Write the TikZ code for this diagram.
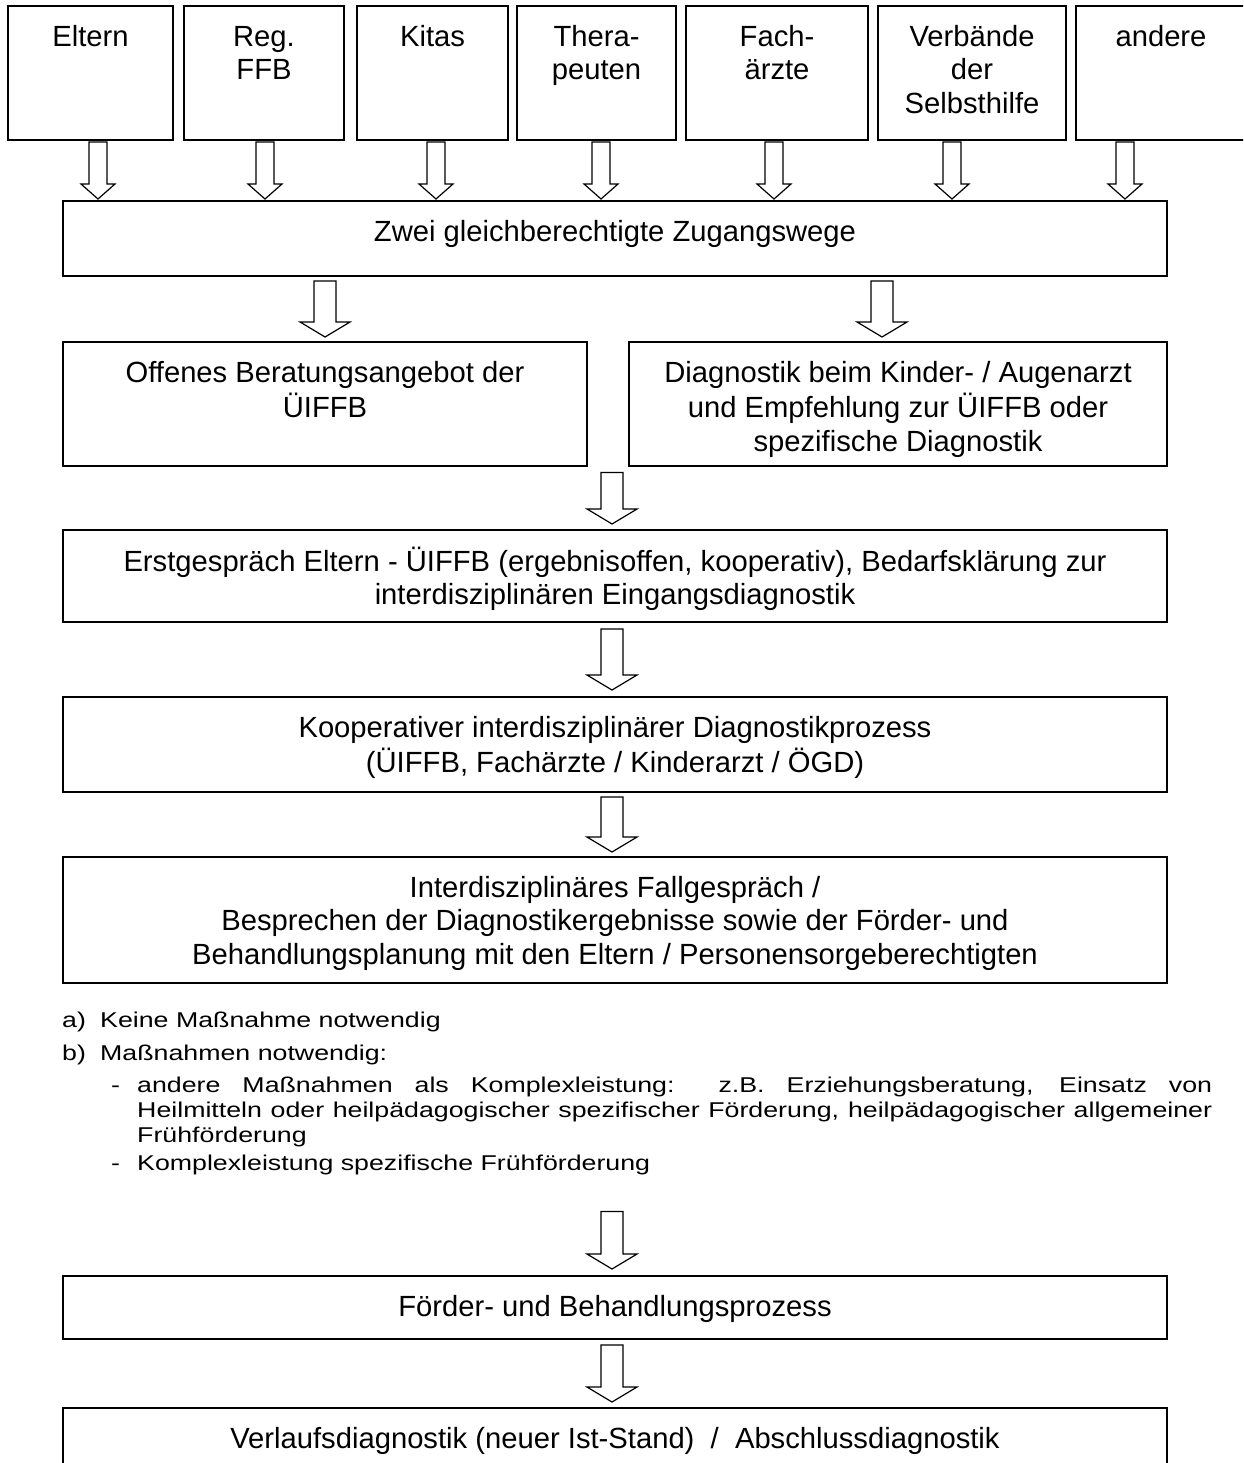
\documentclass[tikz,border=0pt]{standalone}
\usepackage{fontspec}
\setmainfont{Liberation Sans}
\usetikzlibrary{calc}

\newcommand{\boxfont}{\fontsize{29.2}{33.6}\selectfont}
\newcommand{\listfont}{\fontsize{26.75}{30}\selectfont}
% list lines are squeezed vertically
\newcommand{\squeeze}[1]{\scalebox{1}[0.8]{#1}}
% hollow block arrow: x, from node, to node, half shaft, half head, gap
\newcommand{\hollowarrow}[6]{%
  \draw[hollow] let \p1 = (#2.south), \p2 = (#3.north) in
    (#1pt-#4pt,\y1-#6pt) -- (#1pt+#4pt,\y1-#6pt) -- (#1pt+#4pt,\y2+#6pt+15pt)
    -- (#1pt+#5pt,\y2+#6pt+15pt) -- (#1pt,\y2+#6pt) -- (#1pt-#5pt,\y2+#6pt+15pt)
    -- (#1pt-#4pt,\y2+#6pt+15pt) -- cycle;}

\begin{document}
\begin{tikzpicture}[x=1pt, y=-1pt,
  box/.style={draw, line width=1.2pt, inner sep=0pt, outer sep=0pt},
  boxtext/.style={anchor=north, align=center, inner sep=0pt, font=\boxfont},
  listtext/.style={anchor=base west, inner sep=0pt, font=\listfont},
  hollow/.style={draw, line width=1.2pt, fill=white, line join=miter}]
\path[clip, use as bounding box] (0,0) rectangle (1243,1463);

% Zugangswege
\node[box, minimum width=1104, minimum height=75] (zwei) at (615,238.5) {};
\node[boxtext] (zwei-t) at ([yshift=-16.5pt]zwei.north) {\strut Zwei gleichberechtigte Zugangswege};

% obere Reihe
\foreach \bx/\cx/\w/\ax/\t in {eltern/90.5/165/98/Eltern, regffb/264/160/265/{Reg.\\FFB},
    kitas/432.5/151/436/Kitas, thera/596.5/159/601/{Thera-\\peuten},
    fach/777/182/774/{Fach-\\ärzte}, verband/972/188/952/{Verbände\\der\\Selbsthilfe},
    andere/1161/170/1125/andere} {
  \node[box, minimum width=\w, minimum height=134] (\bx) at (\cx,73) {};
  \node[boxtext] (\bx-t) at ([yshift=-16.5pt]\bx.north) {\strut\t};
  \hollowarrow{\ax}{\bx}{zwei}{9}{17}{2}
}

% zwei Wege
\node[box, minimum width=524, minimum height=124] (offen) at (325,404) {};
\node[boxtext] (offen-t) at ([yshift=-16.5pt]offen.north) {\strut Offenes Beratungsangebot der\\ÜIFFB};
\node[box, minimum width=538, minimum height=124] (diag) at (898,404) {};
\node[boxtext] (diag-t) at ([yshift=-16.5pt]diag.north) {\strut Diagnostik beim Kinder- / Augenarzt\\und Empfehlung zur ÜIFFB oder\\spezifische Diagnostik};
\hollowarrow{325}{zwei}{offen}{11}{25}{5}
\hollowarrow{882}{zwei}{diag}{11}{25}{5}
\node[inner sep=0pt, outer sep=0pt] (merge) at (612,466) {};

% Ablauf
\node[box, minimum width=1104, minimum height=92] (erst) at (615,576) {};
\node[boxtext] (erst-t) at ([yshift=-16.5pt]erst.north) {\strut Erstgespräch Eltern - ÜIFFB (ergebnisoffen, kooperativ), Bedarfsklärung zur\\interdisziplinären Eingangsdiagnostik};
\node[box, minimum width=1104, minimum height=95] (koop) at (615,744.5) {};
\node[boxtext] (koop-t) at ([yshift=-16.5pt]koop.north) {\strut Kooperativer interdisziplinärer Diagnostikprozess\\(ÜIFFB, Fachärzte / Kinderarzt / ÖGD)};
\node[box, minimum width=1104, minimum height=126] (inter) at (615,920) {};
\node[boxtext] (inter-t) at ([yshift=-16.5pt]inter.north) {\strut Interdisziplinäres Fallgespräch /\\Besprechen der Diagnostikergebnisse sowie der Förder- und\\Behandlungsplanung mit den Eltern / Personensorgeberechtigten};
\hollowarrow{612}{merge}{erst}{11}{25}{6}
\hollowarrow{612}{erst}{koop}{11}{25}{7}
\hollowarrow{612}{koop}{inter}{11}{25}{5}

% Massnahmen
\node[listtext] (ma) at (62,1027) {\squeeze{\makebox[38pt][l]{a)}Keine Maßnahme notwendig}};
\node[listtext] (mb) at (62,1060) {\squeeze{\makebox[38pt][l]{b)}Maßnahmen notwendig:}};
\node[listtext] (mb1) at (111,1092) {\squeeze{\makebox[26pt][l]{-}\makebox[1075pt][s]{andere Maßnahmen als Komplexleistung:\ \ z.B. Erziehungsberatung, Einsatz von}}};
\node[listtext] (mb2) at (137,1117) {\squeeze{\makebox[1075pt][s]{Heilmitteln oder heilpädagogischer spezifischer Förderung, heilpädagogischer allgemeiner}}};
\node[listtext] (mb3) at (137,1142) {\squeeze{Frühförderung}};
\node[listtext] (mb4) at (111,1170) {\squeeze{\makebox[26pt][l]{-}Komplexleistung spezifische Frühförderung}};
\node[inner sep=0pt, outer sep=0pt] (listend) at (612,1204) {};

% Foerderung
\node[box, minimum width=1104, minimum height=63] (foerder) at (615,1307.5) {};
\node[boxtext] (foerder-t) at ([yshift=-16.5pt]foerder.north) {\strut Förder- und Behandlungsprozess};
\node[box, minimum width=1104, minimum height=82] (verlauf) at (615,1449) {};
\node[boxtext] (verlauf-t) at ([yshift=-16.5pt]verlauf.north) {\strut Verlaufsdiagnostik (neuer Ist-Stand)\ \ /\ \ Abschlussdiagnostik};
\hollowarrow{612}{listend}{foerder}{11}{25}{7}
\hollowarrow{612}{foerder}{verlauf}{11}{25}{6}
\end{tikzpicture}
\end{document}
